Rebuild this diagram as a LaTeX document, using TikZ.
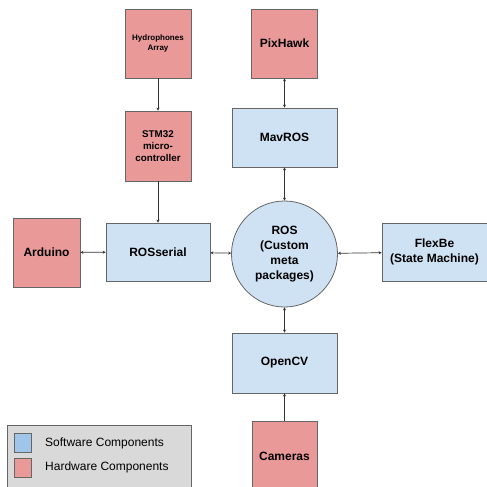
\documentclass[tikz,border=0pt]{standalone}
\usepackage{fontspec}
\setmainfont{Liberation Sans}
\usetikzlibrary{arrows.meta}
\definecolor{hwred}{HTML}{EA9999}
\definecolor{swblue}{HTML}{CFE2F3}
\definecolor{lgblue}{HTML}{9FC5E8}
\definecolor{lggray}{HTML}{D9D9D9}
\definecolor{edge}{HTML}{666666}
\definecolor{wire}{HTML}{333333}
\tikzset{
  hw/.style={draw=edge, line width=0.8pt, fill=hwred, minimum width=66pt, minimum height=69pt, inner sep=1pt, align=center, font=\bfseries\fontsize{12}{15}\selectfont},
  sw/.style={draw=edge, line width=0.8pt, fill=swblue, minimum width=105pt, minimum height=59pt, inner sep=1pt, align=center, font=\bfseries\fontsize{12}{15}\selectfont},
  ros/.style={draw=edge, line width=0.8pt, fill=swblue, circle, minimum size=106pt, inner sep=0pt, align=center, font=\bfseries\fontsize{12}{15}\selectfont},
  link/.style={draw=wire, line width=0.7pt, -{Stealth[length=3pt,width=3pt]}},
  dlink/.style={draw=wire, line width=0.7pt, {Stealth[length=3pt,width=3pt]}-{Stealth[length=3pt,width=3pt]}},
  swatch/.style={draw=edge, line width=0.8pt, minimum width=17pt, minimum height=19pt, inner sep=0pt},
  lgtext/.style={anchor=west, inner sep=0pt, font=\fontsize{12}{14}\selectfont}
}
\begin{document}
\begin{tikzpicture}[x=1pt,y=-1pt]
\useasboundingbox (0,0) rectangle (487,487);
\clip (0,0) rectangle (487,487);
\node[hw, font=\bfseries\fontsize{8}{10}\selectfont] (hyd) at (158,43.5) {Hydrophones\\Array};
\node[hw] (pix) at (284.5,43.5) {PixHawk};
\node[hw, minimum height=70pt, font=\bfseries\fontsize{9.8}{12.3}\selectfont] (stm) at (158,146) {STM32\\micro-\\controller};
\node[sw] (mav) at (284.5,137.5) {MavROS};
\node[ros] (ros) at (284.5,254) {ROS\\(Custom\\meta\\packages)};
\node[hw, minimum width=67pt] (ard) at (46.5,252.5) {Arduino};
\node[sw, minimum width=104pt, minimum height=58pt] (rser) at (158,252) {ROSserial};
\node[sw, minimum height=58pt] (flex) at (434.5,252) {FlexBe\\(State Machine)};
\node[sw, minimum height=60pt] (ocv) at (284.5,363) {OpenCV};
\node[hw, minimum width=65pt, minimum height=70pt] (cam) at (284.5,456) {Cameras};
% legend
\node[draw=edge, line width=0.8pt, fill=lggray, minimum width=184pt, minimum height=70pt, inner sep=0pt] (leg) at (99,460) {};
\node[swatch, fill=lgblue] (swsw) at (23.2,442.5) {};
\node[swatch, fill=hwred] (swhw) at (23.2,468) {};
\node[lgtext] (swt) at (45,443) {Software Components};
\node[lgtext] (hwt) at (45,467) {Hardware Components};
% connectors
\draw[link] (hyd) -- (stm);
\draw[link] (stm) -- (rser);
\draw[dlink] (pix) -- (mav);
\draw[dlink] (mav) -- (ros);
\draw[dlink] (ard) -- (rser);
\draw[dlink] (rser) -- (ros);
\draw[dlink] (ros) -- (flex);
\draw[dlink] (ros) -- (ocv);
\draw[link] (cam) -- (ocv);
\end{tikzpicture}
\end{document}
